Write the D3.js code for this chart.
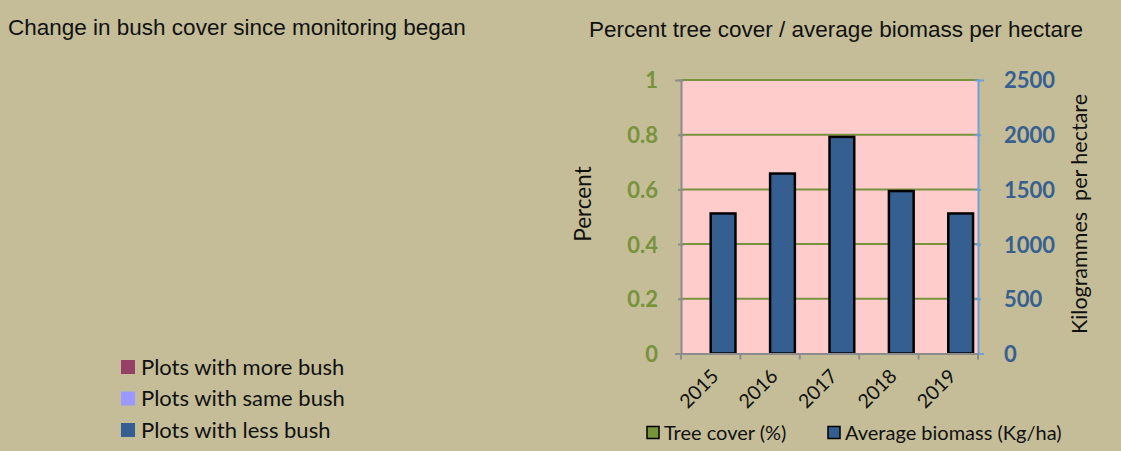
<!DOCTYPE html>
<html><head><meta charset="utf-8">
<script src="https://cdn.jsdelivr.net/npm/d3@7"></script>
<style>
html,body{margin:0;padding:0;background:#C4BD97;}
svg{display:block;}
</style></head>
<body>
<svg id="c" width="1121" height="451"></svg>
<script>
const years = ["2015","2016","2017","2018","2019"];
const treeCover = [0, 0, 0, 0, 0];
const biomass = [1280, 1645, 1980, 1485, 1280];
const leftTicks = [0, 0.2, 0.4, 0.6, 0.8, 1];
const rightTicks = [0, 500, 1000, 1500, 2000, 2500];
const seriesNames = ["Tree cover (%)", "Average biomass (Kg/ha)"];
const seriesColors = ["#77933C", "#365F91"];
const bushLegend = ["Plots with more bush", "Plots with same bush", "Plots with less bush"];
const bushColors = ["#953F66", "#9999FF", "#365F91"];

const svg = d3.select("#c");
const sansA = "Liberation Sans, Arial, sans-serif";
const sansC = "Lato, Open Sans, sans-serif";

// titles
svg.append("text").attr("x", 8).attr("y", 35).attr("font-family", sansA).attr("font-size", 22.5)
  .attr("fill", "#111").text("Change in bush cover since monitoring began");
svg.append("text").attr("x", 589).attr("y", 37).attr("font-family", sansA).attr("font-size", 22.5)
  .attr("fill", "#111").text("Percent tree cover / average biomass per hectare");

// left legend
const lg = svg.append("g");
bushLegend.forEach((t, i) => {
  const y = 367 + i * 31.5;
  lg.append("rect").attr("x", 121).attr("y", y - 7).attr("width", 14).attr("height", 14).attr("fill", bushColors[i]);
  lg.append("text").attr("x", 141).attr("y", y + 7.5).attr("font-family", sansC).attr("font-size", 22)
    .attr("fill", "#111").text(t);
});

// chart area
const L = 681, R = 978, T = 80, B = 353.5;
svg.append("rect").attr("x", L).attr("y", T).attr("width", R - L).attr("height", B - T).attr("fill", "#FFCCCC");

const x = d3.scaleBand().domain(years).range([L, R]).padding(0);
const xs = d3.scaleBand().domain(seriesNames).range([0, x.bandwidth()]).paddingInner(0).paddingOuter(0.2);
const yL = d3.scaleLinear().domain([0, 1]).range([B, T]);
const yR = d3.scaleLinear().domain([0, 2500]).range([B, T]);

// gridlines
svg.append("g").selectAll("line").data(leftTicks.filter(d => d > 0)).join("line")
  .attr("x1", L).attr("x2", R).attr("y1", d => yL(d)).attr("y2", d => yL(d))
  .attr("stroke", "#77933C").attr("stroke-width", 2);

// tree cover bars (zero)
svg.append("g").selectAll("rect").data(treeCover).join("rect")
  .attr("x", (d, i) => x(years[i]) + xs(seriesNames[0]))
  .attr("y", d => yL(d)).attr("width", xs.bandwidth()).attr("height", d => B - yL(d))
  .attr("fill", seriesColors[0]).attr("stroke", d => d > 0 ? "#000" : "none").attr("stroke-width", 2);

// biomass bars
svg.append("g").selectAll("rect").data(biomass).join("rect")
  .attr("x", (d, i) => x(years[i]) + xs(seriesNames[1]))
  .attr("y", d => yR(d)).attr("width", xs.bandwidth()).attr("height", d => B - yR(d))
  .attr("fill", seriesColors[1]).attr("stroke", "#000").attr("stroke-width", 2.5);

// left axis
const ax = svg.append("g").attr("transform", `translate(${L},0)`)
  .call(d3.axisLeft(yL).tickValues(leftTicks).tickFormat(d3.format("~g")).tickSize(6).tickPadding(17));
ax.select(".domain").attr("stroke", "#8C8C8C").attr("stroke-width", 2);
ax.selectAll(".tick line").attr("stroke", "#8C8C8C").attr("stroke-width", 2).attr("transform", "translate(3,0)");
ax.selectAll(".tick text").attr("font-family", sansC).attr("font-weight", "bold").attr("font-size", 22)
  .attr("fill", "#77933C").attr("dy", "0.36em");

// right axis
const ar = svg.append("g").attr("transform", `translate(${R},0)`)
  .call(d3.axisRight(yR).tickValues(rightTicks).tickFormat(d3.format("d")).tickSize(6).tickPadding(20));
ar.select(".domain").attr("stroke", "#6FA0DC").attr("stroke-width", 2);
ar.selectAll(".tick line").attr("stroke", "#6FA0DC").attr("stroke-width", 2).attr("transform", "translate(-3,0)");
ar.selectAll(".tick text").attr("font-family", sansC).attr("font-weight", "bold").attr("font-size", 22)
  .attr("fill", "#376092").attr("dy", "0.36em");

// bottom axis
const ab = svg.append("g").attr("transform", `translate(0,${B})`)
  .call(d3.axisBottom(x).tickSize(0).tickSizeOuter(0));
ab.select(".domain").attr("stroke", "#8C8C8C").attr("stroke-width", 2);
ab.selectAll(".tick text").attr("font-family", sansC).attr("font-size", 19.5).attr("fill", "#111")
  .attr("text-anchor", "end").attr("dy", 0).attr("y", 0)
  .attr("transform", "translate(9,24) rotate(-45)");
// category boundary ticks
ab.append("g").selectAll("line").data(years.concat(["end"])).join("line")
  .attr("x1", (d, i) => i < years.length ? x(d) : R).attr("x2", (d, i) => i < years.length ? x(d) : R)
  .attr("y1", 0).attr("y2", 6).attr("stroke", "#8C8C8C").attr("stroke-width", 2);

// axis titles
svg.append("text").attr("transform", "translate(591,204) rotate(-90)").attr("text-anchor", "middle")
  .attr("font-family", sansC).attr("font-size", 22.5).attr("fill", "#111").text("Percent");
svg.append("text").attr("transform", "translate(1087,214) rotate(-90)").attr("text-anchor", "middle")
  .attr("font-family", sansC).attr("font-size", 21.5).attr("fill", "#111").attr("xml:space", "preserve")
  .text("Kilogrammes  per hectare");

// bottom legend
const bl = svg.append("g");
const blx = [647, 828];
seriesNames.forEach((t, i) => {
  bl.append("rect").attr("x", blx[i]).attr("y", 426.5).attr("width", 12).attr("height", 12)
    .attr("fill", seriesColors[i]).attr("stroke", "#000").attr("stroke-width", 1.5);
  bl.append("text").attr("x", blx[i] + 17).attr("y", 440).attr("font-family", sansC).attr("font-size", 20)
    .attr("fill", "#111").text(t);
});
</script>
</body></html>
